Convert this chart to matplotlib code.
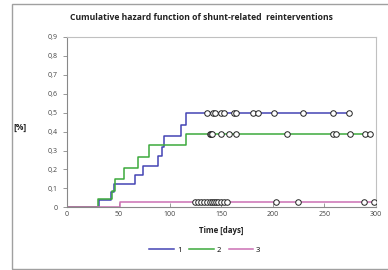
import numpy as np
import matplotlib
matplotlib.use("Agg")
import matplotlib.pyplot as plt
from matplotlib.patches import Rectangle

plt.rcParams['font.family'] = ['Open Sans', 'DejaVu Sans']

# Data
t1 = [0, 31, 43, 46, 66, 74, 88, 92, 94, 111, 116, 274]
v1 = [0, 0.04, 0.08, 0.125, 0.17, 0.22, 0.27, 0.32, 0.375, 0.437, 0.5, 0.5]
c1 = [136, 142, 144, 150, 152, 162, 164, 181, 185, 201, 229, 258, 274]

t2 = [0, 30, 44, 47, 55, 69, 80, 116, 294]
v2 = [0, 0.045, 0.088, 0.15, 0.21, 0.265, 0.33, 0.39, 0.39]
c2 = [139, 140, 141, 150, 157, 164, 214, 258, 261, 275, 289, 294]

t3 = [0, 51, 300]
v3 = [0, 0.026, 0.026]
c3 = [124, 127, 130, 133, 136, 139, 141, 143, 145, 147, 150, 152, 155, 203, 224, 288, 298]

series_labels = ['1', '2', '3']
colors = ['#4444b4', '#3caa3c', '#cc70b4']

xticks = [0, 50, 100, 150, 200, 250, 300]
yticks = [0, 0.1, 0.2, 0.3, 0.4, 0.5, 0.6, 0.7, 0.8, 0.9]
ytick_labels = ['0', '0,1', '0,2', '0,3', '0,4', '0,5', '0,6', '0,7', '0,8', '0,9']

fig = plt.figure(figsize=(3.88, 2.70), dpi=100)
fig.patches.append(Rectangle((12/388, 1/270), 1.2, 1 - 5/270, transform=fig.transFigure,
                             fill=False, edgecolor='#a0a0a0', lw=1.0))
ax = fig.add_axes([67/388, 1 - 207.3/270, (376 - 67)/388, (207.3 - 37)/270])

lines = []
for t, v, c, col, lab in zip([t1, t2, t3], [v1, v2, v3], [c1, c2, c3], colors, series_labels):
    ln, = ax.step(t, v, where='post', color=col, lw=1.1, label=lab, zorder=2)
    lines.append(ln)
    c = np.array(c, dtype=float)
    idx = np.searchsorted(t, c, side='right') - 1
    cy = np.array(v)[idx]
    ax.plot(c, cy, ls='none', marker='o', ms=4.0, mfc='white', mec='#222222', mew=0.7, zorder=3)

ax.set_xlim(0, 300)
ax.set_ylim(0, 0.9)
ax.set_xticks(xticks)
ax.set_xticklabels([str(x) for x in xticks])
ax.set_yticks(yticks)
ax.set_yticklabels(ytick_labels)
ax.tick_params(axis='x', direction='in', length=3, width=0.6, color='#888888',
               labelsize=5, labelcolor='#444444', pad=3)
ax.tick_params(axis='y', direction='out', length=3, width=0.6, color='#888888',
               labelsize=5, labelcolor='#444444', pad=4)
for s in ['left', 'bottom']:
    ax.spines[s].set_color('#888888')
    ax.spines[s].set_linewidth(0.8)
for s in ['top', 'right']:
    ax.spines[s].set_color('#c0c0c0')
    ax.spines[s].set_linewidth(0.8)

ax.set_xlabel('Time [days]', fontsize=5.7, fontweight='bold', color='#222222', labelpad=5)
fig.text(20/388, 1 - 127/270, '[%]', fontsize=6, fontweight='bold', ha='center', va='center', color='#222222')
fig.text(201/388, 1 - 17/270, 'Cumulative hazard function of shunt-related  reinterventions',
         fontsize=6.2, fontweight='bold', ha='center', va='center', color='#222222')

fig.legend(handles=lines, labels=series_labels, loc='center', bbox_to_anchor=(205/388, 1 - 250/270),
           ncol=3, frameon=False, fontsize=5.5, handlelength=3.2, columnspacing=1.0, handletextpad=0.4)

fig.savefig('out.png', dpi=100)
